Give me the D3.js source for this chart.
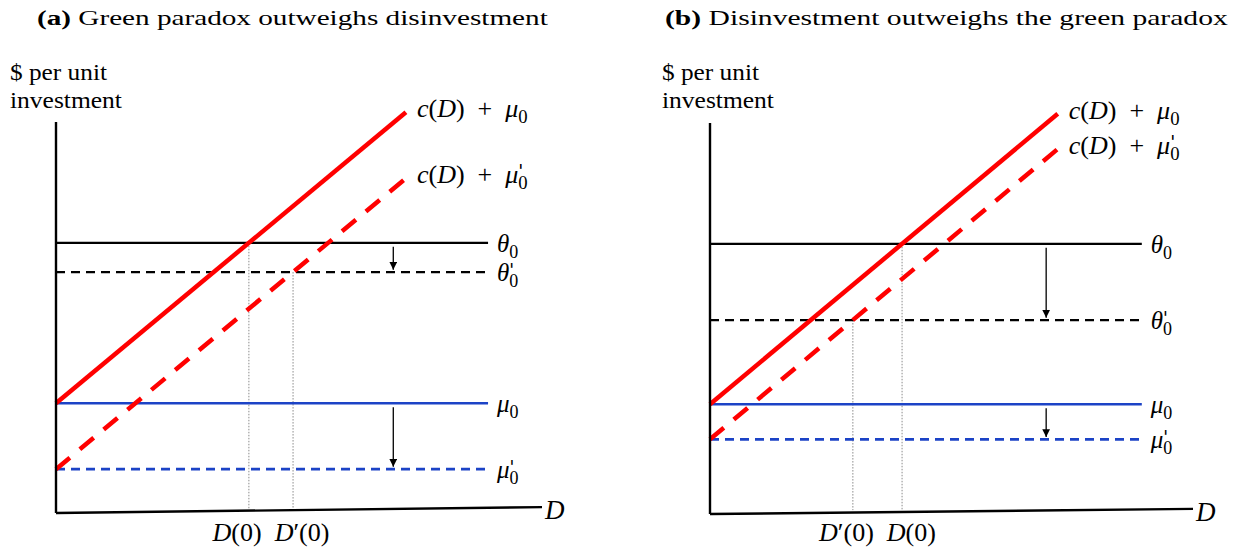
<!DOCTYPE html>
<html><head><meta charset="utf-8">
<script src="https://cdn.jsdelivr.net/npm/d3@7"></script>
<style>
body{margin:0;background:#fff}
svg{display:block}
</style></head><body>
<svg id="chart" width="1236" height="548"></svg>
<script>
// Panel captions
const panelTags = ["(a)", "(b)"];
const panelTitles = ["Green paradox outweighs disinvestment", "Disinvestment outweighs the green paradox"];
// Levels on the $-per-unit axis, one entry per panel
const theta0 = [68.4, 68.4];
const theta0p = [61.0, 49.1];
const mu0 = [27.8, 27.8];
const mu0p = [11.1, 18.9];
// Slope of the marginal cost curve c(D)
const costSlope = [1.023, 1.021];
// Extents along the D axis
const costEnd = [72, 72];
const levelEnd = [88.9, 89.4];
const arrowAt = [69.4, 69.6];
const axisEnd = [100, 100];
const axisTilt = [1.5, 1.3];
const yAxisTop = [99, 99];
const yLabelLines = ["$ per unit", "investment"];

// Pixel frames of the two panels
const frames = [
  {x0: 56, x1: 542, y0: 513, y1: 118, titleX: 37, titleW: 511, labX: 10},
  {x0: 710, x1: 1193, y0: 514, y1: 119, titleX: 665, titleW: 563, labX: 662}
];
const yLabelWidths = [97, 112];

const RED = "#ff0000", BLUE = "#1c43c6", INK = "#000";
const serif = "'Liberation Serif', 'Times New Roman', serif";
const svg = d3.select("#chart");

const defs = svg.append("defs");
defs.append("marker").attr("id", "head")
  .attr("viewBox", "0 0 10 10").attr("refX", 10).attr("refY", 5)
  .attr("markerWidth", 6).attr("markerHeight", 6).attr("orient", "auto")
  .attr("markerUnits", "strokeWidth")
  .append("path").attr("d", "M0,0 L10,5 L0,10 z").attr("fill", INK);

// Math label: tokens of [text, italic?, role] where role is 'sub' or 'subprime'
function mathLabel(g, x, y, tokens, size) {
  const t = g.append("text").attr("x", x).attr("y", y)
    .attr("font-family", serif).attr("font-size", size).attr("fill", INK);
  tokens.forEach(tok => {
    const [txt, ital, role] = tok;
    if (role === "sub" || role === "subprime") {
      t.append("tspan").attr("dy", size * 0.24).attr("font-size", size * 0.72).text(txt);
      if (role === "subprime") {
        // prime stacked over the subscript
        t.append("tspan").attr("dx", -size * 0.36).attr("dy", -size * 0.46)
          .attr("font-family", "'DejaVu Sans', sans-serif").attr("font-style", "italic")
          .attr("font-size", size * 0.7).text("'");
      }
    } else {
      t.append("tspan").attr("font-style", ital ? "italic" : "normal").text(txt);
    }
  });
  return t;
}

function stretchTo(sel, width) {
  const w = sel.node().getComputedTextLength();
  const x = +sel.attr("x");
  sel.attr("transform", `translate(${x},0) scale(${width / w},1) translate(${-x},0)`);
}

frames.forEach((f, i) => {
  const x = d3.scaleLinear().domain([0, 100]).range([f.x0, f.x1]);
  const y = d3.scaleLinear().domain([0, 100]).range([f.y0, f.y1]);
  const g = svg.append("g");
  const line = d3.line().x(d => x(d[0])).y(d => y(d[1]));

  // Title
  const title = g.append("text").attr("x", f.titleX).attr("y", 25)
    .attr("font-family", serif).attr("font-size", 22).attr("fill", INK);
  title.append("tspan").attr("font-weight", "bold").text(panelTags[i] + " ");
  title.append("tspan").text(panelTitles[i]);
  stretchTo(title, f.titleW);

  // Vertical axis caption
  yLabelLines.forEach((s, k) => {
    const t = g.append("text").attr("x", f.labX).attr("y", 80 + k * 28)
      .attr("font-family", serif).attr("font-size", 23).attr("fill", INK).text(s);
    stretchTo(t, yLabelWidths[k]);
  });

  // Intersections D(0) and D'(0)
  const D0 = (theta0[i] - mu0[i]) / costSlope[i];
  const D0p = (theta0p[i] - mu0p[i]) / costSlope[i];
  const tiltAt = d => axisTilt[i] * d / axisEnd[i];

  // Thin dotted guides
  [[D0, theta0[i]], [D0p, theta0p[i]]].forEach(([d, v]) => {
    g.append("path").attr("d", line([[d, v], [d, tiltAt(d) + 0.6]]))
      .attr("stroke", "#8a8a8a").attr("stroke-width", 1).attr("stroke-dasharray", "1.5,1.5").attr("fill", "none");
  });

  // Horizontal levels
  const levels = [
    {v: theta0[i], color: INK, dash: null, w: 2.2, lab: [["θ", true], ["0", false, "sub"]]},
    {v: theta0p[i], color: INK, dash: "9,6", w: 2.2, lab: [["θ", true], ["0", false, "subprime"]]},
    {v: mu0[i], color: BLUE, dash: null, w: 2.6, lab: [["μ", true], ["0", false, "sub"]]},
    {v: mu0p[i], color: BLUE, dash: "9,6", w: 2.6, lab: [["μ", true], ["0", false, "subprime"]]}
  ];
  levels.forEach(L => {
    g.append("path").attr("d", line([[0, L.v], [levelEnd[i], L.v]]))
      .attr("stroke", L.color).attr("stroke-width", L.w).attr("fill", "none")
      .attr("stroke-dasharray", L.dash);
    mathLabel(g, x(levelEnd[i]) + 9, y(L.v) + 9, L.lab, 25);
  });

  // Cost curves c(D) + mu
  const plus = "\u2002+\u2002";
  const curves = [
    {mu: mu0[i], dash: null, lab: [["c", true], ["(", false], ["D", true], [")", false], [plus, false], ["μ", true], ["0", false, "sub"]]},
    {mu: mu0p[i], dash: "18,13", lab: [["c", true], ["(", false], ["D", true], [")", false], [plus, false], ["μ", true], ["0", false, "subprime"]]}
  ];
  curves.forEach(C => {
    const endV = C.mu + costSlope[i] * costEnd[i];
    g.append("path").attr("d", line([[0, C.mu], [costEnd[i], endV]]))
      .attr("stroke", RED).attr("stroke-width", 4.5).attr("fill", "none")
      .attr("stroke-dasharray", C.dash);
    mathLabel(g, x(costEnd[i]) + 11, y(endV) + 5, C.lab, 26);
  });

  // Downward shift arrows
  [[theta0[i], theta0p[i]], [mu0[i], mu0p[i]]].forEach(([a, b]) => {
    g.append("path").attr("d", line([[arrowAt[i], a - 1], [arrowAt[i], b + 0.6]]))
      .attr("stroke", INK).attr("stroke-width", 1.3).attr("fill", "none")
      .attr("marker-end", "url(#head)");
  });

  // Axes
  g.append("path").attr("d", line([[0, yAxisTop[i]], [0, 0]]))
    .attr("stroke", INK).attr("stroke-width", 2.4).attr("fill", "none");
  g.append("path").attr("d", line([[0, 0], [axisEnd[i], axisTilt[i]]]))
    .attr("stroke", INK).attr("stroke-width", 2.4).attr("fill", "none");
  g.append("text").attr("x", x(axisEnd[i]) + 3).attr("y", y(axisTilt[i]) + 12)
    .attr("font-family", serif).attr("font-size", 27).attr("font-style", "italic").text("D");

  // D(0) / D'(0) tick captions, centred between the two guides
  const left = D0 <= D0p ? ["D", "(0)"] : ["D", "\u2032(0)"];
  const right = D0 <= D0p ? ["D", "\u2032(0)"] : ["D", "(0)"];
  const cap = g.append("text").attr("x", x((D0 + D0p) / 2)).attr("y", 541)
    .attr("text-anchor", "middle").attr("font-family", serif).attr("font-size", 26).attr("fill", INK);
  cap.append("tspan").attr("font-style", "italic").text(left[0]);
  cap.append("tspan").text(left[1] + "\u2002");
  cap.append("tspan").attr("font-style", "italic").text(right[0]);
  cap.append("tspan").text(right[1]);
});
</script>
</body></html>
